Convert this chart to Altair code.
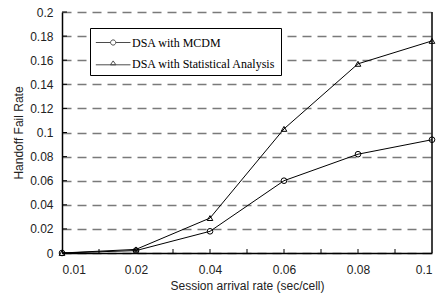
import altair as alt
import pandas as pd

rates = ["0.01", "0.02", "0.04", "0.06", "0.08", "0.1"]
series = ["DSA with MCDM", "DSA with Statistical Analysis"]
mcdm = [0.0, 0.002, 0.018, 0.060, 0.082, 0.094]
stat = [0.0, 0.003, 0.029, 0.103, 0.157, 0.176]
y_ticks = [0.0, 0.02, 0.04, 0.06, 0.08, 0.1, 0.12, 0.14, 0.16, 0.18, 0.2]
x_minor = [0.5, 1.0, 1.5, 2.0, 2.5, 3.0, 3.5, 4.0, 4.5]

rows = []
for i, r in enumerate(rates):
    rows.append({"idx": i, "rate": r, "series": series[0], "value": mcdm[i]})
    rows.append({"idx": i, "rate": r, "series": series[1], "value": stat[i]})
df = pd.DataFrame(rows)

label_expr = "[" + ",".join("'" + r + "'" for r in rates) + "][datum.value]"
xscale = alt.Scale(domain=[0, len(rates) - 1], nice=False, zero=False)
yscale = alt.Scale(domain=[0, 0.2], nice=False)

x_axis = alt.Axis(values=list(range(len(rates))), labelExpr=label_expr,
                  title="Session arrival rate (sec/cell)", grid=False,
                  ticks=False, labelPadding=11, titlePadding=5,
                  labelOverlap=False,
                  domainColor="black", domainWidth=1.5)
y_axis = alt.Axis(values=y_ticks, format=".2~f", title="Handoff Fail Rate", grid=True,
                  gridDash=[9, 6], gridColor="#7a7a7a", gridWidth=1.5,
                  ticks=False, labelPadding=9, titlePadding=4,
                  labelOverlap=False,
                  domainColor="black", domainWidth=1.5)

base = alt.Chart(df)

lines = base.mark_line(color="black", strokeWidth=1).encode(
    x=alt.X("idx:Q", scale=xscale, axis=x_axis),
    y=alt.Y("value:Q", scale=yscale, axis=y_axis),
    detail="series:N",
)

points = base.mark_point(filled=False, color="black", strokeWidth=1, size=32, opacity=1).encode(
    x=alt.X("idx:Q", scale=xscale, axis=x_axis),
    y=alt.Y("value:Q", scale=yscale, axis=y_axis),
    shape=alt.Shape("series:N", scale=alt.Scale(domain=series, range=["circle", "triangle-up"]),
                    legend=None),
)

legend_paths = [
    "M-1,0H0.7M1.3,0H3M0.7,0A0.3,0.3 0 1,0 1.3,0A0.3,0.3 0 1,0 0.7,0",
    "M-1,0.15H3M0.68,0.15L1,-0.3L1.32,0.15Z",
]
legend_layer = base.mark_point(filled=False, color="black", strokeWidth=1).encode(
    x=alt.X("idx:Q", scale=xscale, axis=x_axis),
    y=alt.Y("value:Q", scale=yscale, axis=y_axis),
    shape=alt.Shape("series:N", scale=alt.Scale(domain=series, range=legend_paths),
                    legend=alt.Legend(title=None, orient="none", legendX=28, legendY=16,
                                      symbolSize=300, symbolStrokeWidth=1,
                                      symbolStrokeColor="black", symbolFillColor="white",
                                      labelFont="Liberation Serif", labelFontSize=12,
                                      labelColor="black", labelOffset=18,
                                      strokeColor="black", fillColor="white",
                                      padding=5, rowPadding=5)),
).transform_filter("false")

right_border = alt.Chart(pd.DataFrame({"a": [0]})).mark_rule(color="black", strokeWidth=1.5).encode(
    x=alt.datum(len(rates) - 1, scale=xscale, axis=x_axis),
    y=alt.datum(0, scale=yscale, axis=y_axis),
    y2=alt.datum(0.2),
)

ytick_df = pd.DataFrame({"value": y_ticks})
ytick_rules = alt.Chart(ytick_df).mark_rule(color="black", strokeWidth=1).encode(
    y=alt.Y("value:Q", scale=yscale, axis=y_axis),
    x=alt.value(0),
    x2=alt.value(5),
)

xtick_df = pd.DataFrame({"idx": x_minor})
xtick_rules = alt.Chart(xtick_df).mark_rule(color="black", strokeWidth=1).encode(
    x=alt.X("idx:Q", scale=xscale, axis=x_axis),
    y=alt.value(241),
    y2=alt.value(237),
)

chart = alt.layer(lines, ytick_rules, xtick_rules, right_border, points, legend_layer).resolve_scale(
    shape="independent"
).properties(
    width=370, height=241,
    autosize=alt.AutoSizeParams(type="none"),
    padding={"left": 54, "top": 4, "right": 6, "bottom": 42},
).configure_view(stroke=None).configure_axis(
    labelFont="Liberation Sans", labelFontSize=12, labelColor="#222222",
    titleFont="Liberation Sans", titleFontSize=12, titleFontWeight="normal", titleColor="#222222",
    zindex=1,
)

chart.save("out.html", embed_options={"renderer": "svg", "actions": False})
